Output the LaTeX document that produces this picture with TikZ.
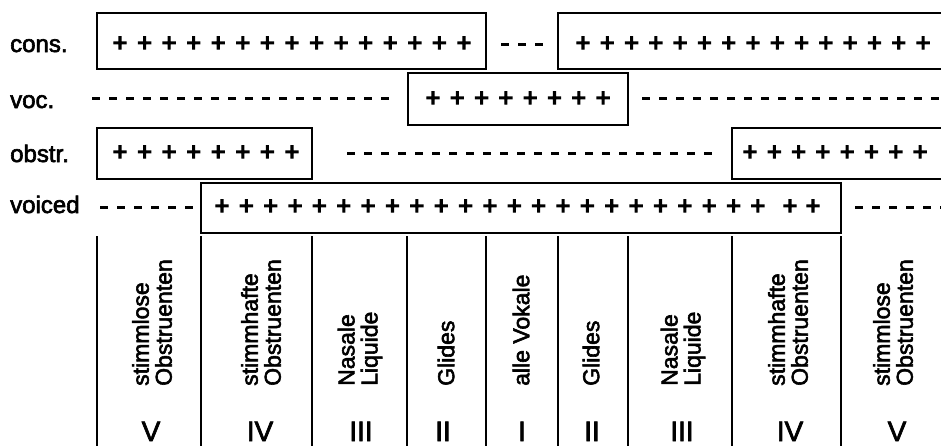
\documentclass[tikz,border=0pt]{standalone}
\usepackage{fontspec}
\setmainfont{Liberation Sans}
\newfontfamily\fkb[FakeBold=2.5]{Liberation Sans}
\newfontfamily\fkp[FakeBold=5]{Liberation Sans}
\begin{document}
\begin{tikzpicture}[x=1pt,y=-1pt,
  box/.style={draw, line width=2.6pt},
  rowlabel/.style={anchor=base west, inner sep=0, font=\fkb\fontsize{24}{26}\selectfont},
  plus/.style={inner sep=0, font=\fkp\fontsize{25}{26}\selectfont},
  dashrow/.style={line width=3pt, dash pattern=on 8pt off 9pt},
  coltext/.style={rotate=90, anchor=west, align=left, inner sep=0, font=\fkb\fontsize{23}{23}\selectfont},
  numeral/.style={anchor=base, inner sep=0, font=\fkb\fontsize{28}{28}\selectfont},
  colline/.style={line width=2.4pt}]
\useasboundingbox (0,0) rectangle (941,445);
\clip (0,0) rectangle (941,445);

% row labels
\node[rowlabel] (lcons) at (10,52) {cons.};
\node[rowlabel] (lvoc) at (10,108) {voc.};
\node[rowlabel] (lobstr) at (10,162) {obstr.};
\node[rowlabel] (lvoiced) at (10,213) {voiced};

% boxes
\draw[box] (97,13) rectangle (486,69);
\draw[box] (558,13) rectangle (960,69);
\draw[box] (408,73) rectangle (628,125);
\draw[box] (97,128) rectangle (312,179);
\draw[box] (732,128) rectangle (960,179);
\draw[box] (201,183) rectangle (841,233);

% plus signs
\foreach \i in {0,...,14} \node[plus] (ca\i) at ({120+\i*24.57},44) {+};
\foreach \i in {0,...,14} \node[plus] (cb\i) at ({583+\i*24.29},44) {+};
\foreach \i in {0,...,7} \node[plus] (va\i) at ({433+\i*24.3},99) {+};
\foreach \i in {0,...,7} \node[plus] (oa\i) at ({120+\i*24.57},153) {+};
\foreach \i in {0,...,7} \node[plus] (ob\i) at ({750+\i*24.3},153) {+};
\foreach \i in {0,...,22} \node[plus] (vd\i) at ({222+\i*24.36},207) {+};
\node[plus] (vdx) at (790,207) {+};
\node[plus] (vdy) at (813,207) {+};

% dashed rows
\draw[dashrow] (501,44) -- (550,44);
\draw[dashrow] (92,98) -- (396,98);
\draw[dashrow] (642,98) -- (945,98);
\draw[dashrow] (347,153) -- (714,153);
\draw[dashrow] (100,207) -- (196,207);
\draw[dashrow] (855,207) -- (945,207);

% column lines
\foreach \x in {97,201,312,407,486,558,628,732,841}
  \draw[colline] (\x,236) -- (\x,450);

% column texts
\node[coltext] (t1) at (152,386) {stimmlose\\Obstruenten};
\node[coltext] (t2) at (261,386) {stimmhafte\\Obstruenten};
\node[coltext] (t3) at (360,386) {Nasale\\Liquide};
\node[coltext] (t4) at (446,386) {Glides};
\node[coltext] (t5) at (521,386) {alle Vokale};
\node[coltext] (t6) at (591,386) {Glides};
\node[coltext] (t7) at (683,386) {Nasale\\Liquide};
\node[coltext] (t8) at (788,386) {stimmhafte\\Obstruenten};
\node[coltext] (t9) at (893,386) {stimmlose\\Obstruenten};

% numerals
\node[numeral] (n1) at (151,441) {V};
\node[numeral] (n2) at (260,441) {IV};
\node[numeral] (n3) at (361,441) {III};
\node[numeral] (n4) at (443,441) {II};
\node[numeral] (n5) at (522,441) {I};
\node[numeral] (n6) at (592,441) {II};
\node[numeral] (n7) at (682,441) {III};
\node[numeral] (n8) at (790,441) {IV};
\node[numeral] (n9) at (897,441) {V};
\end{tikzpicture}
\end{document}
